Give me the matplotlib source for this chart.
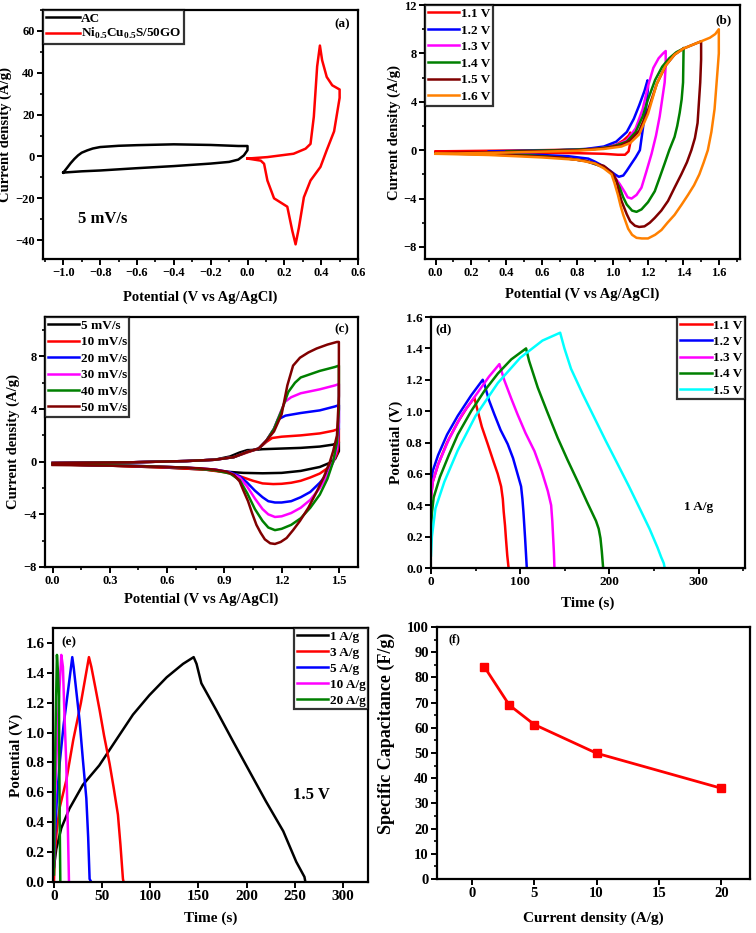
import numpy as np
import matplotlib
matplotlib.use("Agg")
import matplotlib.pyplot as plt
from matplotlib.ticker import MultipleLocator

plt.rcParams['font.family'] = ['Liberation Serif', 'DejaVu Serif']
plt.rcParams['font.weight'] = 'bold'
plt.rcParams['mathtext.fontset'] = 'custom'
plt.rcParams['mathtext.rm'] = 'Liberation Serif:bold'
plt.rcParams['mathtext.bf'] = 'Liberation Serif:bold'

# ---- (a) CV of AC and Ni0.5Cu0.5S/50GO at 5 mV/s
ac_x = [-1.0, -0.98, -0.96, -0.94, -0.92, -0.9, -0.87, -0.84, -0.8, -0.7, -0.6, -0.4,
        -0.2, -0.05, 0.0, 0.0, -0.02, -0.05, -0.1, -0.2, -0.4, -0.6, -0.8, -0.9, -1.0]
ac_y = [-7.7, -5.5, -3.2, -1.2, 0.5, 1.8, 2.9, 3.8, 4.5, 5.1, 5.4, 5.8,
        5.5, 5.0, 5.0, 3.0, 0.5, -1.5, -2.6, -3.4, -4.6, -5.6, -6.7, -7.1, -7.7]
ncs_x = [0.0, 0.108, 0.25, 0.315, 0.342, 0.36, 0.378, 0.393, 0.405, 0.43, 0.46, 0.5,
         0.5, 0.47, 0.43, 0.396, 0.342, 0.306, 0.279, 0.261, 0.243, 0.216, 0.18,
         0.144, 0.108, 0.09, 0.072, 0.0]
ncs_y = [-1.0, -0.3, 1.3, 3.7, 6.0, 19.0, 43.0, 53.0, 46.0, 38.0, 34.0, 32.0,
         28.0, 12.0, 3.0, -5.0, -11.5, -19.5, -34.0, -42.0, -35.5, -24.0, -22.0,
         -20.0, -11.5, -3.5, -2.0, -1.0]

# ---- (b) CV at different potential windows
b_labels = ['1.1 V', '1.2 V', '1.3 V', '1.4 V', '1.5 V', '1.6 V']
b11_x = [0.0, 0.3, 0.6, 0.8, 0.9, 0.97, 1.02, 1.06, 1.09, 1.1, 1.1, 1.09, 1.07, 1.03,
         0.95, 0.8, 0.5, 0.0]
b11_y = [-0.1, -0.05, 0.0, 0.05, 0.12, 0.25, 0.45, 0.8, 1.2, 1.45, 0.6, -0.1, -0.38,
         -0.38, -0.3, -0.25, -0.2, -0.15]
b12_x = [0.3, 0.5, 0.7, 0.85, 0.95, 1.02, 1.08, 1.12, 1.15, 1.18, 1.197, 1.2, 1.19,
         1.173, 1.154, 1.13, 1.107, 1.08, 1.06, 1.035, 1.013, 0.985, 0.957, 0.9,
         0.863, 0.75, 0.6, 0.45, 0.3]
b12_y = [-0.1, -0.05, 0.0, 0.1, 0.3, 0.7, 1.5, 2.6, 3.7, 4.9, 5.77, 5.2, 3.6, 2.0,
         0.0, -0.6, -1.1, -1.7, -2.1, -2.2, -2.0, -1.7, -1.4, -0.95, -0.7, -0.5,
         -0.4, -0.35, -0.3]
b13_x = [0.75, 0.9, 1.0, 1.08, 1.13, 1.17, 1.2, 1.23, 1.26, 1.285, 1.3, 1.3, 1.294,
         1.28, 1.266, 1.245, 1.22, 1.19, 1.163, 1.135, 1.107, 1.085, 1.07, 1.04, 1.0,
         0.95, 0.85, 0.75]
b13_y = [0.0, 0.1, 0.3, 0.8, 1.8, 3.4, 5.3, 6.8, 7.6, 8.0, 8.2, 7.0, 5.6, 4.2, 2.8,
         1.2, -0.3, -1.8, -3.1, -3.7, -4.0, -3.9, -3.5, -2.8, -2.0, -1.4, -0.9, -0.7]
b14_x = [0.4, 0.7, 0.9, 1.0, 1.08, 1.13, 1.17, 1.2, 1.24, 1.28, 1.32, 1.36, 1.4,
         1.401, 1.398, 1.39, 1.379, 1.365, 1.35, 1.32, 1.294, 1.265, 1.238, 1.2,
         1.163, 1.135, 1.11, 1.08, 1.06, 1.04, 1.0, 0.95, 0.85, 0.7, 0.55, 0.4]
b14_y = [-0.1, 0.0, 0.1, 0.3, 0.7, 1.5, 2.8, 4.2, 5.8, 6.9, 7.6, 8.1, 8.4, 8.45,
         5.6, 4.2, 3.1, 2.0, 1.1, 0.0, -1.1, -2.3, -3.4, -4.3, -4.9, -5.1, -5.0,
         -4.5, -3.9, -3.1, -2.0, -1.4, -0.9, -0.6, -0.45, -0.35]
b15_x = [0.0, 0.4, 0.8, 0.95, 1.05, 1.1, 1.15, 1.2, 1.25, 1.3, 1.35, 1.4, 1.45, 1.5,
         1.5, 1.495, 1.48, 1.465, 1.445, 1.42, 1.388, 1.35, 1.313, 1.275, 1.238,
         1.21, 1.18, 1.15, 1.126, 1.1, 1.08, 1.05, 1.035, 1.022, 1.0, 0.95, 0.85,
         0.7, 0.4, 0.0]
b15_y = [-0.25, -0.15, 0.0, 0.15, 0.4, 0.8, 1.6, 3.3, 5.5, 7.0, 7.9, 8.4, 8.7, 9.0,
         7.5, 5.6, 2.25, 1.0, 0.0, -1.0, -2.0, -3.1, -4.2, -5.0, -5.6, -6.0, -6.3,
         -6.35, -6.25, -5.9, -5.3, -4.2, -3.4, -2.5, -1.9, -1.3, -0.9, -0.6, -0.4,
         -0.25]
b16_x = [0.0, 0.4, 0.8, 0.95, 1.05, 1.1, 1.15, 1.2, 1.25, 1.3, 1.35, 1.4, 1.45, 1.5,
         1.55, 1.58, 1.6, 1.6, 1.595, 1.576, 1.558, 1.538, 1.515, 1.49, 1.46, 1.426,
         1.39, 1.35, 1.31, 1.276, 1.24, 1.2, 1.165, 1.135, 1.11, 1.088, 1.06, 1.045,
         1.03, 1.01, 0.994, 0.95, 0.9, 0.8, 0.6, 0.3, 0.0]
b16_y = [-0.3, -0.2, -0.05, 0.1, 0.3, 0.6, 1.3, 3.0, 5.5, 7.0, 7.9, 8.4, 8.7, 9.0,
         9.3, 9.6, 10.0, 8.0, 7.0, 3.4, 1.5, 0.0, -1.0, -2.0, -2.9, -3.7, -4.5,
         -5.35, -6.0, -6.6, -7.0, -7.3, -7.3, -7.25, -7.0, -6.5, -5.35, -4.6, -3.7,
         -2.7, -2.0, -1.5, -1.1, -0.8, -0.6, -0.4, -0.3]

# ---- (c) CV at different scan rates
c_labels = ['5 mV/s', '10 mV/s', '20 mV/s', '30 mV/s', '40 mV/s', '50 mV/s']
c5_x = [0.0, 0.4, 0.7, 0.85, 0.93, 0.98, 1.02, 1.06, 1.1, 1.2, 1.3, 1.4, 1.47, 1.5,
        1.5, 1.48, 1.45, 1.4, 1.3, 1.2, 1.1, 1.0, 0.9, 0.8, 0.6, 0.3, 0.0]
c5_y = [-0.1, -0.05, 0.05, 0.15, 0.4, 0.7, 0.88, 0.9, 0.95, 1.0, 1.05, 1.15, 1.3,
        1.5, 0.8, 0.2, -0.1, -0.4, -0.7, -0.85, -0.88, -0.85, -0.75, -0.6, -0.45,
        -0.3, -0.2]
c10_x = [0.0, 0.4, 0.7, 0.85, 0.95, 1.02, 1.08, 1.12, 1.15, 1.2, 1.3, 1.4, 1.47, 1.5,
         1.5, 1.49, 1.47, 1.44, 1.4, 1.35, 1.3, 1.25, 1.2, 1.156, 1.1, 1.05, 1.0,
         0.95, 0.9, 0.8, 0.6, 0.3, 0.0]
c10_y = [-0.1, -0.05, 0.05, 0.15, 0.35, 0.7, 1.0, 1.5, 1.8, 1.9, 2.0, 2.15, 2.35,
         2.5, 1.5, 0.6, 0.0, -0.5, -0.9, -1.2, -1.45, -1.6, -1.68, -1.7, -1.65,
         -1.45, -1.2, -0.95, -0.8, -0.6, -0.45, -0.3, -0.2]
c20_x = [0.0, 0.4, 0.7, 0.85, 0.95, 1.02, 1.08, 1.12, 1.16, 1.18, 1.22, 1.3, 1.4,
         1.48, 1.5, 1.5, 1.49, 1.47, 1.44, 1.4, 1.35, 1.3, 1.25, 1.2, 1.165, 1.13,
         1.1, 1.06, 1.02, 0.98, 0.93, 0.85, 0.7, 0.4, 0.0]
c20_y = [-0.1, -0.05, 0.05, 0.15, 0.35, 0.75, 1.0, 1.6, 2.5, 3.2, 3.5, 3.7, 3.9,
         4.2, 4.3, 2.5, 1.0, 0.0, -0.9, -1.6, -2.3, -2.7, -3.0, -3.1, -3.1, -3.0,
         -2.7, -2.2, -1.6, -1.1, -0.8, -0.6, -0.45, -0.3, -0.2]
c30_x = [0.0, 0.4, 0.7, 0.85, 0.95, 1.02, 1.08, 1.12, 1.16, 1.19, 1.217, 1.25, 1.3,
         1.4, 1.48, 1.5, 1.5, 1.49, 1.47, 1.44, 1.4, 1.35, 1.3, 1.25, 1.2, 1.165,
         1.13, 1.1, 1.06, 1.02, 0.98, 0.93, 0.85, 0.7, 0.4, 0.0]
c30_y = [-0.1, -0.05, 0.05, 0.15, 0.35, 0.75, 1.0, 1.6, 2.5, 3.6, 4.55, 4.9, 5.2,
         5.5, 5.8, 5.9, 3.0, 1.0, 0.0, -1.0, -2.0, -2.9, -3.5, -3.9, -4.15, -4.2,
         -4.0, -3.6, -2.8, -1.9, -1.2, -0.85, -0.6, -0.45, -0.3, -0.2]
c40_x = [0.0, 0.4, 0.7, 0.85, 0.95, 1.02, 1.08, 1.12, 1.16, 1.2, 1.235, 1.27, 1.3,
         1.4, 1.48, 1.5, 1.5, 1.49, 1.47, 1.44, 1.4, 1.35, 1.3, 1.25, 1.2, 1.165,
         1.13, 1.1, 1.06, 1.02, 0.98, 0.93, 0.85, 0.7, 0.4, 0.0]
c40_y = [-0.1, -0.05, 0.05, 0.15, 0.35, 0.75, 1.0, 1.6, 2.5, 3.9, 5.3, 6.0, 6.4,
         6.9, 7.2, 7.3, 4.0, 1.5, 0.0, -1.3, -2.5, -3.5, -4.3, -4.8, -5.1, -5.2,
         -5.0, -4.5, -3.6, -2.4, -1.4, -0.9, -0.65, -0.45, -0.3, -0.2]
c50_x = [0.0, 0.4, 0.7, 0.85, 0.95, 1.02, 1.08, 1.12, 1.16, 1.2, 1.23, 1.26, 1.296,
         1.34, 1.383, 1.44, 1.49, 1.5, 1.5, 1.49, 1.47, 1.453, 1.42, 1.383, 1.34,
         1.296, 1.26, 1.226, 1.195, 1.165, 1.14, 1.112, 1.09, 1.068, 1.045, 1.024,
         1.0, 0.98, 0.95, 0.91, 0.85, 0.77, 0.6, 0.3, 0.0]
c50_y = [-0.1, -0.05, 0.05, 0.15, 0.35, 0.75, 1.0, 1.6, 2.3, 3.6, 5.8, 7.3, 7.9,
         8.3, 8.6, 8.9, 9.1, 9.1, 5.0, 2.0, 0.8, 0.0, -1.2, -2.3, -3.5, -4.5, -5.2,
         -5.8, -6.1, -6.25, -6.2, -5.9, -5.4, -4.8, -3.9, -3.0, -2.2, -1.5, -1.0,
         -0.75, -0.6, -0.5, -0.4, -0.3, -0.25]

# ---- (d) GCD at 1 A/g, different windows
d_labels = ['1.1 V', '1.2 V', '1.3 V', '1.4 V', '1.5 V']
d11_t = [0, 2, 8, 18, 30, 40, 48.6, 52, 57, 63.6, 70, 74.8, 78.6, 80.5, 81.5, 83, 84,
         85.5, 87]
d11_v = [0.45, 0.55, 0.66, 0.8, 0.93, 1.02, 1.085, 1.01, 0.9, 0.79, 0.68, 0.6, 0.52,
         0.44, 0.36, 0.27, 0.19, 0.08, 0.0]
d12_t = [0, 2, 8, 18, 30, 45, 58, 60, 65, 71, 78, 86, 92, 97, 101, 102.5, 103.6,
         104.5, 105.5, 106.5, 107.4]
d12_v = [0.55, 0.62, 0.72, 0.85, 0.97, 1.1, 1.2, 1.17, 1.07, 0.98, 0.88, 0.79, 0.7,
         0.6, 0.52, 0.44, 0.36, 0.28, 0.19, 0.09, 0.0]
d13_t = [0, 2, 8, 20, 35, 50, 65, 76.7, 82, 90, 97, 106, 116, 124, 131, 134.7, 136,
         137, 137.8, 138.4]
d13_v = [0.45, 0.55, 0.66, 0.82, 0.98, 1.1, 1.22, 1.3, 1.2, 1.08, 0.98, 0.86, 0.745,
         0.62, 0.49, 0.4, 0.3, 0.19, 0.1, 0.0]
d14_t = [0, 1, 3, 10, 20, 30, 45, 60, 75, 90, 106.6, 110, 119.7, 130, 142, 153,
         164.6, 175, 185, 188, 190, 191.5, 193]
d14_v = [0.25, 0.35, 0.45, 0.58, 0.72, 0.85, 1.0, 1.13, 1.24, 1.33, 1.4, 1.32, 1.15,
         1.0, 0.83, 0.69, 0.55, 0.42, 0.3, 0.25, 0.19, 0.106, 0.0]
d15_t = [0, 1, 5, 15, 30, 50, 75, 100, 125, 144.8, 149.6, 157, 170, 183, 196, 209.5,
         222, 235.7, 245, 254, 258, 261, 262]
d15_v = [0.08, 0.2, 0.38, 0.55, 0.75, 0.97, 1.18, 1.34, 1.45, 1.5, 1.4, 1.27, 1.11,
         0.96, 0.81, 0.66, 0.52, 0.36, 0.25, 0.13, 0.07, 0.03, 0.0]

# ---- (e) GCD at 1.5 V, different current densities
e_labels = ['1 A/g', '3 A/g', '5 A/g', '10 A/g', '20 A/g']
e1_t = [0, 2.4, 7.6, 16, 30, 47, 65, 82, 99, 117, 134, 145, 148, 153, 168.5, 186,
        203, 220, 238, 251.5, 260, 261]
e1_v = [0.1, 0.22, 0.36, 0.49, 0.65, 0.78, 0.955, 1.12, 1.25, 1.37, 1.46, 1.505,
        1.46, 1.33, 1.15, 0.94, 0.74, 0.54, 0.34, 0.135, 0.034, 0.0]
e3_t = [0, 1, 3, 6, 12.8, 20, 28, 36.3, 38.8, 43, 47.4, 52, 57.8, 62, 66.4, 69,
        71.6, 72.3]
e3_v = [0.0, 0.2, 0.35, 0.5, 0.68, 0.95, 1.2, 1.505, 1.44, 1.3, 1.15, 0.98, 0.79,
        0.63, 0.45, 0.25, 0.02, 0.0]
e5_t = [0, 1, 3, 6, 10, 15, 19, 20.4, 23.5, 26.6, 30, 33.6, 35.5, 37, 38.7]
e5_v = [0.1, 0.3, 0.55, 0.8, 1.05, 1.3, 1.505, 1.44, 1.26, 1.08, 0.82, 0.56, 0.3,
        0.02, 0.0]
e10_t = [0, 0.5, 1.5, 3, 5, 7.6, 9.3, 11, 12.8, 14.5, 15.6]
e10_v = [0.15, 0.35, 0.6, 0.9, 1.2, 1.52, 1.44, 1.1, 0.79, 0.34, 0.0]
e20_t = [0, 0.3, 0.8, 1.5, 2.3, 3.1, 4.2, 5.2, 5.9, 6.6]
e20_v = [0.05, 0.3, 0.6, 0.95, 1.25, 1.52, 1.4, 1.24, 0.45, 0.0]

# ---- (f) specific capacitance
f_current = [1, 3, 5, 10, 20]
f_capacitance = [84.2, 69.0, 61.3, 49.9, 36.0]

RED, BLUE, MAG, GRN, DRED, ORG, CYAN = ('#ff0000', '#0000ff', '#ff00ff', '#008000',
                                       '#800000', '#ff8000', '#00ffff')


def style(ax, xmaj, xmin, ymaj, ymin, tsize):
    for s in ax.spines.values():
        s.set_linewidth(1.6)
    ax.xaxis.set_major_locator(MultipleLocator(xmaj))
    ax.yaxis.set_major_locator(MultipleLocator(ymaj))
    if xmin:
        ax.xaxis.set_minor_locator(MultipleLocator(xmin))
    if ymin:
        ax.yaxis.set_minor_locator(MultipleLocator(ymin))
    ax.tick_params(which='major', direction='out', length=4, width=1.4,
                   labelsize=tsize, top=False, right=False, pad=2)
    ax.tick_params(which='minor', direction='out', length=2.2, width=1.2,
                   top=False, right=False)
    for lab in ax.get_xticklabels() + ax.get_yticklabels():
        lab.set_fontweight('bold')


def legend(ax, loc, size, spacing, hl=2.4):
    lg = ax.legend(loc=loc, frameon=True, fancybox=False,
                   borderaxespad=0.0, handlelength=hl, handletextpad=0.1,
                   labelspacing=spacing, borderpad=0.2, prop={'weight': 'bold', 'size': size})
    lg.get_frame().set_edgecolor('black')
    lg.get_frame().set_linewidth(1.6)
    return lg


fig = plt.figure(figsize=(7.56, 9.33), dpi=100)

lw = 1.8
# (a)
ax = fig.add_axes([0.0569, 0.7224, 0.4167, 0.2669])
ax.plot(ac_x, ac_y, color='black', lw=lw, label='AC')
ax.plot(ncs_x, ncs_y, color=RED, lw=lw, label=r'Ni$_{0.5}$Cu$_{0.5}$S/50GO')
ax.set_xlim(-1.11, 0.6)
ax.set_ylim(-49, 70)
style(ax, 0.2, 0.1, 20, 10, 9)
ax.set_xlabel('Potential (V vs Ag/AgCl)', fontsize=10.5, fontweight='bold', labelpad=8)
ax.set_ylabel('Current density (A/g)', fontsize=10.5, fontweight='bold', labelpad=2)
legend(ax, 'upper left', 9.5, 0.1, hl=2.6)
ax.text(0.95, 0.944, '(a)', transform=ax.transAxes, ha='center', va='center',
        fontsize=9.5, fontweight='bold')
ax.text(-0.92, -30, '5 mV/s', fontsize=12, fontweight='bold', va='center')

# (b)
ax = fig.add_axes([0.5622, 0.7224, 0.4167, 0.2722])
for xs, ys, c, lab in zip([b11_x, b12_x, b13_x, b14_x, b15_x, b16_x],
                          [b11_y, b12_y, b13_y, b14_y, b15_y, b16_y],
                          [RED, BLUE, MAG, GRN, DRED, ORG], b_labels):
    ax.plot(xs, ys, color=c, lw=lw, label=lab)
ax.set_xlim(-0.06, 1.72)
ax.set_ylim(-9, 12)
style(ax, 0.2, 0.1, 4, 2, 9)
ax.set_xlabel('Potential (V vs Ag/AgCl)', fontsize=10.5, fontweight='bold', labelpad=6)
ax.set_ylabel('Current density (A/g)', fontsize=10.5, fontweight='bold', labelpad=2)
legend(ax, 'upper left', 9.5, 0.33)
ax.text(0.949, 0.94, '(b)', transform=ax.transAxes, ha='center', va='center',
        fontsize=9.5, fontweight='bold')

# (c)
ax = fig.add_axes([0.0595, 0.3923, 0.414, 0.268])
for xs, ys, c, lab in zip([c5_x, c10_x, c20_x, c30_x, c40_x, c50_x],
                          [c5_y, c10_y, c20_y, c30_y, c40_y, c50_y],
                          ['black', RED, BLUE, MAG, GRN, DRED], c_labels):
    ax.plot(xs, ys, color=c, lw=lw, label=lab)
ax.set_xlim(-0.04, 1.6)
ax.set_ylim(-8, 11)
style(ax, 0.3, 0.15, 4, 2, 9)
ax.set_xlabel('Potential (V vs Ag/AgCl)', fontsize=10.5, fontweight='bold', labelpad=4)
ax.set_ylabel('Current density (A/g)', fontsize=10.5, fontweight='bold', labelpad=2)
legend(ax, 'upper left', 9.5, 0.32)
ax.text(0.948, 0.952, '(c)', transform=ax.transAxes, ha='center', va='center',
        fontsize=9.5, fontweight='bold')

# (d)
ax = fig.add_axes([0.5701, 0.3912, 0.4153, 0.269])
for xs, ys, c, lab in zip([d11_t, d12_t, d13_t, d14_t, d15_t],
                          [d11_v, d12_v, d13_v, d14_v, d15_v],
                          [RED, BLUE, MAG, GRN, CYAN], d_labels):
    ax.plot(xs, ys, color=c, lw=lw, label=lab)
ax.set_xlim(0, 352)
ax.set_ylim(0, 1.6)
style(ax, 100, 50, 0.2, None, 9.5)
ax.set_xlabel('Time (s)', fontsize=11, fontweight='bold', labelpad=6)
ax.set_ylabel('Potential (V)', fontsize=11, fontweight='bold', labelpad=2)
legend(ax, 'upper right', 9.5, 0.3)
ax.text(0.04, 0.952, '(d)', transform=ax.transAxes, ha='center', va='center',
        fontsize=9.5, fontweight='bold')
ax.text(300, 0.39, '1 A/g', fontsize=9.5, fontweight='bold', ha='center', va='center')

# (e)
ax = fig.add_axes([0.0701, 0.0547, 0.4167, 0.2722])
for xs, ys, c, lab in zip([e1_t, e3_t, e5_t, e10_t, e20_t],
                          [e1_v, e3_v, e5_v, e10_v, e20_v],
                          ['black', RED, BLUE, MAG, GRN], e_labels):
    ax.plot(xs, ys, color=c, lw=lw, label=lab)
ax.set_xlim(-1, 326)
ax.set_ylim(0, 1.7)
style(ax, 50, None, 0.2, None, 11)
ax.set_xlabel('Time (s)', fontsize=11, fontweight='bold', labelpad=6)
ax.set_ylabel('Potential (V)', fontsize=11, fontweight='bold', labelpad=2)
legend(ax, 'upper right', 9.5, 0.28)
ax.text(0.05, 0.945, '(e)', transform=ax.transAxes, ha='center', va='center',
        fontsize=9.5, fontweight='bold')
ax.text(248, 0.58, '1.5 V', fontsize=12, fontweight='bold', ha='left', va='center')

# (f)
ax = fig.add_axes([0.578, 0.0579, 0.414, 0.2701])
ax.plot(f_current, f_capacitance, color=RED, lw=2.0, marker='s', markersize=5.5)
ax.set_xlim(-2.8, 22.3)
ax.set_ylim(0, 100)
style(ax, 5, None, 10, 5, 10.5)
ax.set_xlabel('Current density (A/g)', fontsize=11, fontweight='bold', labelpad=8)
ax.set_ylabel('Specific Capacitance (F/g)', fontsize=13, fontweight='bold')
ax.yaxis.set_label_coords(-0.135, 0.58)
ax.text(0.055, 0.952, '(f)', transform=ax.transAxes, ha='center', va='center',
        fontsize=8.5, fontweight='bold')

fig.savefig('out.png', dpi=100)
